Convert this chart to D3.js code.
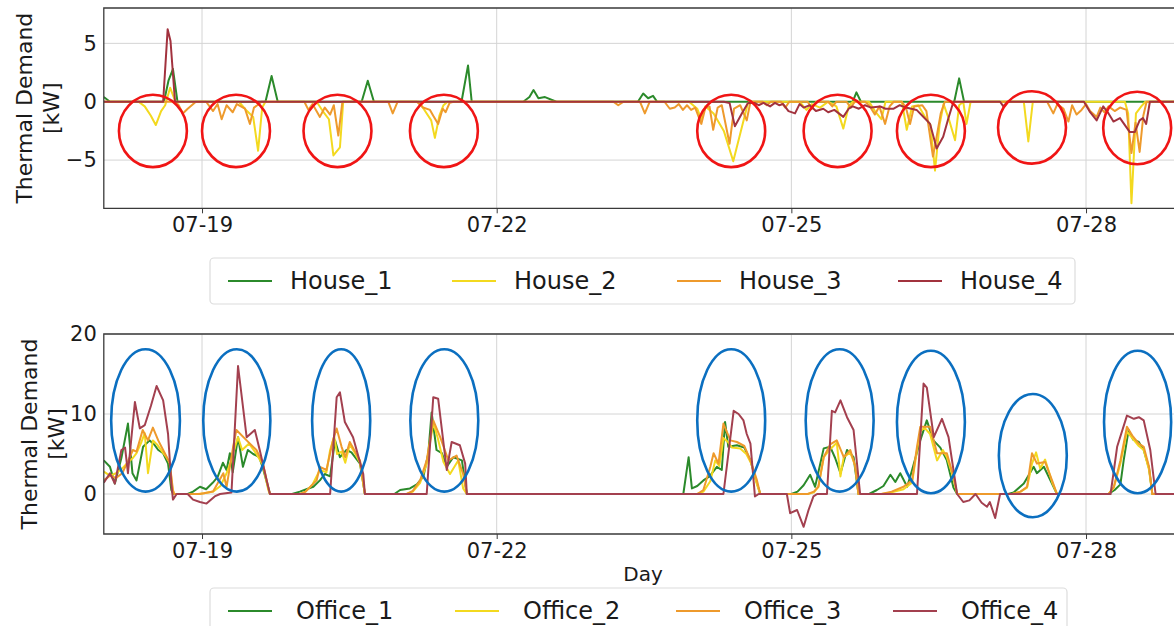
<!DOCTYPE html>
<html>
<head>
<meta charset="utf-8">
<script src="https://cdn.jsdelivr.net/npm/d3@7"></script>
<style>
  body { margin: 0; background: #fff; }
  svg { display: block; font-family: "DejaVu Sans", sans-serif; }
</style>
</head>
<body>
<svg id="chart" width="1174" height="626"></svg>
<script>
// ---- data: [hours since 07-18 00:00, kW] ----
const startDay = "2019-07-18";
const endHour = 266;
const tickDays = ["07-19", "07-22", "07-25", "07-28"];

const houseNames = ["House_1", "House_2", "House_3", "House_4"];
const officeNames = ["Office_1", "Office_2", "Office_3", "Office_4"];
const houseYTicks = [-5, 0, 5];
const officeYTicks = [0, 10, 20];
const houseYDomain = [-9.13, 8.03];
const officeYDomain = [-5, 20];

const house1 = [[0,0.4],[1.5,0],[14.7,0],[15.8,1.8],[16.9,2.8],[18,0],[39.5,0],[41,2.2],[42.5,0],[63,0],[64.5,1.8],[66,0],[87.4,0],[89,3.1],[89.9,0],[102.5,0],[104,0.4],[105,1.0],[106.2,0.3],[107.8,0.4],[110.6,0],[130.5,0],[131.8,0.7],[133,0.3],[134.2,0.5],[135.2,0],[183,0],[183.9,0.8],[185,0],[207.8,0],[209,2.0],[210.2,0],[266,0]];

const house2 = [[0,0],[8.5,0],[10,-0.4],[11.5,-1.2],[12.7,-2.0],[14,-0.8],[15,-0.3],[16.2,1.2],[17.5,0],[33,0],[35,-0.8],[36.5,-1.3],[37.7,-4.2],[38.7,-0.5],[39.5,0],[52,0],[53.5,-0.8],[55,-1.5],[56.1,-4.6],[57.7,-3.9],[58.5,0],[77,0],[78.5,-0.8],[80,-1.6],[80.9,-3.1],[82,-1.2],[83,-0.3],[84,0],[143,0],[145,-0.6],[146,-1.5],[147,-0.4],[149,-1.0],[151.5,-2.5],[153.8,-5.1],[157.4,-0.1],[158,0],[170,0],[171.7,-0.7],[173,-0.2],[175,-0.5],[177,0],[179,-0.4],[180.7,-2.3],[182,-0.4],[183,0],[187,0],[188.4,-0.8],[190,-1.5],[191,0],[195,0],[196.2,-2.4],[197.5,-0.4],[199,-0.3],[200.5,-1.2],[202,-2.0],[203.1,-5.9],[204.2,-2.0],[205.2,-0.2],[206.5,-1.5],[208,-3.3],[209,-0.3],[210,0],[210.8,-1.9],[211.8,0],[224.8,0],[225.9,-3.4],[227,0],[249.5,0],[250.3,-1.0],[251.1,-8.7],[252.2,-1.0],[253.5,-0.4],[254.5,0],[266,0]];

const house3 = [[0,0],[17.5,0],[18.3,-0.3],[19.3,-1.0],[20.5,-0.6],[21.5,-0.3],[22.5,0],[25,0],[26.7,-0.8],[27.8,-0.2],[28.8,-1.5],[30,-0.3],[31.5,-0.9],[32.5,-0.2],[34.5,-0.6],[35.7,-1.9],[36.7,-0.5],[37.5,-0.3],[38.5,0],[49,0],[50,-0.7],[51,-0.2],[52.8,-1.3],[54,-0.5],[55.3,-1.1],[56.2,-0.3],[57.3,-2.9],[58.3,0],[69.5,0],[70.6,-1.0],[71.8,0],[76.5,0],[78,-0.5],[79.7,-0.7],[80.5,-1.2],[81.7,-1.9],[82.8,-0.6],[83.5,-0.9],[84.5,-0.1],[85.5,0],[124.5,0],[125.7,-0.3],[127,0],[131,0],[132.2,-1.0],[133.4,0],[137,0],[138.3,-0.6],[139.5,-0.5],[140.5,-0.2],[141.5,-0.7],[142.5,-0.3],[143.5,-0.7],[144.5,-0.5],[146,-1.9],[147,-0.5],[148,-0.4],[148.9,-2.4],[150,-0.5],[151,-0.3],[152.9,-3.6],[154,-0.6],[155.5,-0.3],[157.1,-1.6],[158,0],[161,0],[162,-0.3],[163,0],[165.5,0],[166.5,-0.5],[167.5,0],[172,0],[173,-0.6],[174,0],[177,0],[178,-0.4],[179,0],[181.5,0],[182.5,-0.5],[183.5,0],[186,0],[187,-0.3],[188.4,-1.1],[189.5,-0.4],[190.9,-1.9],[192,-0.4],[193,0],[195,0],[196,-0.5],[197,-1.9],[198,-0.4],[200,-0.3],[201,-0.8],[202.6,-4.7],[203.5,-3.0],[204.5,-1.0],[205.5,0],[230.5,0],[232,-1.0],[233,-0.2],[234.5,-0.6],[235.7,-1.7],[236.6,-0.3],[237.7,-1.1],[238.9,-0.7],[240,-0.2],[241,-0.8],[242.6,-1.3],[243.5,-0.5],[244.5,-0.9],[245.5,-0.4],[247,-0.8],[248.3,-0.5],[249.9,-0.7],[251.1,-4.4],[252.1,-1.8],[253.1,-4.3],[254,-1.2],[254.8,0],[266,0]];

const house4 = [[0,0],[14.5,0],[15.6,6.2],[16.3,5.2],[17.4,0],[151.5,0],[152.9,-0.1],[154.2,-2.1],[155.9,-1.0],[157.4,-0.1],[159,-0.1],[160,-0.3],[161.2,-0.1],[162.8,-0.4],[164,-0.1],[165,-0.3],[166,-0.2],[167.3,-0.8],[168.9,-1.0],[170,-0.2],[171,-0.5],[172.5,-0.3],[174,-0.8],[175.8,-0.6],[177,-0.9],[178.5,-0.7],[180.7,-1.3],[182,-0.6],[183,-0.4],[184.5,-0.6],[186,-0.3],[187.5,-0.5],[189.7,-0.4],[191,-0.6],[193,-0.6],[194.5,-0.3],[196,-0.5],[198.6,-0.7],[200,-1.2],[201.9,-1.9],[203.5,-4.0],[205.1,-3.0],[206.3,-1.5],[207.6,0],[219,0],[219.8,-0.4],[220.8,0],[239.5,0],[241,-0.9],[242.6,-1.6],[244.2,-0.4],[245.5,-1.0],[246.7,-1.7],[248.3,-1.4],[249.5,-2.0],[250.7,-2.6],[251.9,-2.6],[253.1,-1.6],[253.9,-1.4],[254.7,-1.9],[255.6,0],[266,0]];

const office1 = [[0,4.2],[1.5,3.4],[2.7,1.3],[4.3,4.5],[5.9,8.8],[7,2.6],[8,1.7],[9.6,5.9],[11.2,6.7],[12.3,6.2],[13.3,5.5],[14.5,5.1],[15.7,3.8],[16.5,0.5],[17,0],[20.5,0],[21.8,0.3],[23.5,0.9],[25,0.6],[26.6,1.4],[27.8,2.1],[29.1,3.9],[30,3.0],[30.8,5.1],[31.5,2.7],[32.8,7.1],[34,3.4],[35.2,5.5],[36.5,5.0],[38,4.6],[39,3.0],[40.6,0],[46,0],[47.9,0.3],[49.5,0.6],[51.2,0.9],[52.8,1.7],[54,2.5],[55.3,2.2],[56.5,6.7],[57.7,4.6],[59.3,5.5],[60.5,5.2],[62.6,3.8],[63.8,0],[71,0],[72.4,0.5],[74.8,0.7],[76.5,1.2],[78.1,2.2],[79.3,5.1],[80.1,10.2],[81.3,5.5],[82.6,5.1],[83.8,3.4],[85.4,4.6],[87.5,4.2],[88.7,0],[141.6,0],[142.9,4.6],[143.7,0.7],[145,1.0],[146.5,1.7],[148,2.2],[149.8,3.4],[151,3.0],[151.8,9.0],[152.6,5.9],[154.7,6.1],[156.5,5.8],[158,4.2],[159.2,2.0],[160.4,0],[168,0],[169.5,0.3],[171,1.1],[172.6,2.4],[173.8,0.9],[175.9,5.7],[177.5,5.9],[178.7,4.5],[180,2.6],[181.6,5.5],[183.2,4.6],[184.4,0],[187,0],[188.9,0.5],[190.5,1.0],[192.2,2.4],[193.4,1.5],[194.6,2.6],[196.3,0.9],[197.5,3.0],[199.5,6.7],[201.1,9.2],[202.7,6.7],[204.4,5.8],[206,4.2],[207.6,0.8],[208.5,0],[221,0],[222.3,0.2],[224.8,1.3],[227.2,3.4],[228,2.6],[229.7,3.4],[231.5,1.5],[232.9,0],[245.5,0],[247,0.5],[248.4,1.2],[249.2,4.2],[250.4,8.0],[251.5,6.8],[252.9,6.5],[254.1,5.5],[255.4,3.2],[256.2,0],[266,0]];

const office2 = [[0,2.8],[1.5,2.3],[3,2.6],[4.5,3.2],[6,4.0],[7.1,4.5],[8,5.1],[9.2,6.5],[10,7.6],[10.8,2.6],[12,6.7],[13,6.2],[14.4,5.2],[15.3,4.6],[16.1,3.9],[16.8,0.5],[17.2,0],[23,0],[24.5,0.1],[26.7,0.3],[28.5,1.0],[30,2.6],[31,4.0],[32,5.8],[32.8,7.1],[33.8,5.5],[35.5,6.3],[37.3,5.0],[38.9,3.6],[40.2,0.5],[40.6,0],[48,0],[49.3,0.3],[51,1.2],[52.8,3.0],[54.4,2.7],[55.3,5.5],[56.3,7.2],[57,5.0],[58.1,5.3],[59,3.9],[60.1,6.2],[61.5,5.0],[62.6,3.9],[63.8,0],[74,0],[75.5,0.3],[77.3,1.4],[78.9,3.8],[80.5,8.9],[81.6,7.0],[83,4.0],[84.6,2.5],[86.6,4.2],[87.8,0.7],[88.7,0],[145,0],[146.5,0.3],[148.2,1.6],[149.4,4.2],[150.4,3.5],[151.4,7.0],[152.5,6.5],[153.5,5.8],[155.5,5.7],[157,5.0],[158.2,3.8],[159.6,1.2],[160.4,0],[172,0],[173.5,0.2],[174.6,0.9],[175.9,4.6],[177.5,5.6],[179.1,6.4],[180,2.2],[180.8,4.6],[182.4,5.2],[183.6,3.5],[184.4,0],[190,0],[192.5,0.2],[195.4,0.6],[197.5,1.4],[198.7,5.5],[199.5,7.8],[200.5,8.3],[201.9,7.5],[203.6,4.2],[205,5.5],[206,4.6],[207.6,2.0],[208.5,0],[222,0],[224,0.3],[225.6,0.8],[226.8,3.8],[227.8,5.2],[228.8,3.2],[230,4.3],[231.7,1.5],[232.9,0],[245.5,0],[246.8,0.8],[248.4,3.8],[250,7.8],[251.3,7.0],[252.9,6.0],[254.1,5.5],[255.4,3.0],[256.2,0],[266,0]];

const office3 = [[0,1.7],[1.5,2.3],[3,2.0],[4.5,2.6],[6,4.2],[7.1,5.5],[8,5.3],[9.5,8.0],[10.8,6.7],[12,8.3],[13.3,6.7],[14.5,5.5],[16.1,3.9],[16.9,0.5],[17.2,0],[23.5,0],[26.7,0.3],[29.2,2.6],[30,0.9],[31.6,5.9],[32.4,8.0],[34.9,6.7],[37.3,5.5],[38.9,3.8],[40.2,0.8],[40.6,0],[48,0],[49.3,0.3],[52,1.7],[52.8,3.4],[54.4,3.0],[56,6.7],[56.9,8.2],[58.1,5.9],[59,4.6],[60.1,6.5],[62.6,4.2],[63.8,0],[74,0],[75.5,0.4],[77.3,1.7],[78.9,4.2],[80.5,9.2],[82.2,7.1],[84.2,4.2],[86.2,4.8],[87.8,2.5],[88.7,0],[145,0],[146.5,0.5],[148.2,3.4],[149,5.1],[150.2,3.8],[151.4,8.8],[153.1,6.7],[154.7,6.5],[156.5,6.0],[158,4.2],[159.6,1.7],[160.4,0],[172,0],[173.5,0.3],[174.6,0.9],[175.9,4.6],[177.5,6.2],[179.1,6.7],[180.8,4.6],[182.4,5.5],[183.6,3.5],[184.4,0],[190,0],[192.5,0.3],[195.4,0.9],[197.5,1.7],[198.7,5.9],[199.5,8.4],[201.9,8.4],[203.6,5.1],[206,5.1],[207.6,2.2],[208.5,0],[222,0],[224,0.3],[225.6,0.9],[226.8,5.1],[228,3.8],[230,4.0],[231.7,1.7],[232.9,0],[245.5,0],[246.8,0.9],[248.4,4.2],[250,8.4],[251.3,7.3],[252.9,6.3],[254.1,5.9],[255.4,3.4],[256.2,0],[266,0]];

const office4 = [[0,1.4],[1.5,2.6],[2.7,1.3],[4.3,5.5],[5.2,5.8],[5.9,2.6],[7.6,11.5],[8.8,8.2],[10,8.6],[11.5,11.0],[12.9,13.5],[14.5,11.7],[15.7,7.5],[16.5,1.3],[16.9,-0.7],[17.8,0],[20.5,0],[21.8,-0.7],[23.5,-1.0],[25.1,-1.2],[27.1,-0.3],[28.4,0],[31.2,0.2],[32.8,16.0],[34.9,7.1],[36.9,8.0],[38.1,5.5],[39.8,1.7],[40.6,0],[55.3,0],[56.9,12.1],[57.7,12.7],[58.9,9.0],[60.9,7.1],[63.4,2.5],[63.8,0],[78.9,0],[80.5,12.1],[81.7,11.9],[83.8,3.0],[85,6.5],[87,6.1],[88.3,3.8],[88.7,0],[151.4,0],[153.9,10.4],[155.1,10.0],[156.3,9.2],[157.1,7.5],[158,6.3],[159.1,-0.3],[160,0],[166.9,0],[167.7,-2.4],[169.4,-2.0],[171,-4.1],[172.2,-2.0],[173.4,-0.3],[174.3,0],[176.7,0],[177.9,10.4],[178.7,10.2],[180,11.7],[181.6,9.6],[183.2,8.0],[184.8,0],[198.7,0],[200.3,13.8],[201.1,13.3],[202.8,7.1],[204.8,9.4],[206.4,7.1],[208.5,0],[210,-1.0],[211.5,-0.8],[213,0],[214.5,-1.1],[215.8,-1.6],[216.5,-1.0],[217.8,-3.0],[219,0],[246,0],[247.6,5.9],[250,9.8],[251.7,9.4],[252.9,9.6],[254.1,9.2],[255.7,5.5],[257,0],[266,0]];

// highlighted periods: [centre hour, centre kW, half-width in hours, half-height in kW]
const houseMarks = [[12.0,-2.5,8.3,3.1],[32.3,-2.5,8.3,3.1],[57.1,-2.5,8.3,3.1],[83.1,-2.5,8.3,3.1],[153.3,-2.5,8.3,3.1],[179.3,-2.5,8.3,3.1],[202.1,-2.5,8.3,3.1],[226.8,-2.2,8.3,3.1],[252.5,-2.25,8.3,3.1]];
const officeMarks = [[10.2,9.2,8.4,8.9],[32.5,9.2,8.2,8.9],[58.0,9.2,7.1,8.9],[83.2,9.2,8.3,8.9],[153.3,9.2,8.3,8.9],[179.8,9.2,8.3,8.9],[202.1,9.0,8.3,8.9],[227.0,4.8,8.3,7.7],[252.6,9.0,8.2,8.9]];

const houseColors = ["#2b8a2b", "#f3d91f", "#ee9a2c", "#a2323e"];
const officeColors = ["#2b8a2b", "#f3d91f", "#ee9a2c", "#a3404f"];

// ---- drawing ----
const svg = d3.select("#chart");
const t0 = d3.timeParse("%Y-%m-%d")(startDay);
const at = h => new Date(t0.getTime() + h * 3600e3);
const year = startDay.slice(0, 4);
const tickDates = tickDays.map(s => d3.timeParse("%Y-%m-%d")(year + "-" + s));

const pxPerHour = 4.0926;
const left = 103.8;
const x = d3.scaleTime().domain([at(0), at(endHour)]).range([left, left + endHour * pxPerHour]);

function panel(opts) {
  const { top, bottom, yDomain, yTicks, series, names, colors, marks, markColor, id } = opts;
  const y = d3.scaleLinear().domain(yDomain).range([bottom, top]);
  const g = svg.append("g");
  const right = 1200;

  g.append("clipPath").attr("id", id).append("rect")
    .attr("x", left).attr("y", top).attr("width", right - left).attr("height", bottom - top);

  // grid
  g.append("g").selectAll("line").data(tickDates).join("line")
    .attr("x1", d => x(d)).attr("x2", d => x(d)).attr("y1", top).attr("y2", bottom)
    .attr("stroke", "#d4d4d4").attr("stroke-width", 1);
  g.append("g").selectAll("line").data(yTicks).join("line")
    .attr("x1", left).attr("x2", right).attr("y1", d => y(d)).attr("y2", d => y(d))
    .attr("stroke", "#d4d4d4").attr("stroke-width", 1);

  // series
  const line = d3.line().x(d => x(at(d[0]))).y(d => y(d[1]));
  g.append("g").attr("clip-path", `url(#${id})`).selectAll("path").data(series).join("path")
    .attr("d", line).attr("fill", "none")
    .attr("stroke", (d, i) => colors[i]).attr("stroke-width", 2)
    .attr("stroke-linejoin", "round");

  // frame
  g.append("path")
    .attr("d", `M${right},${top}H${left}V${bottom}H${right}`)
    .attr("fill", "none").attr("stroke", "#3a3a3a").attr("stroke-width", 1.3);

  // axes
  const xa = g.append("g").attr("transform", `translate(0,${bottom})`)
    .call(d3.axisBottom(x).tickValues(tickDates).tickFormat(d3.timeFormat("%m-%d")).tickSize(5).tickPadding(4));
  xa.select(".domain").remove();
  xa.selectAll("line").attr("stroke", "#3a3a3a");
  xa.selectAll("text").attr("font-size", 21).attr("fill", "#1a1a1a").attr("font-family", "DejaVu Sans");

  const ya = g.append("g").attr("transform", `translate(${left},0)`)
    .call(d3.axisLeft(y).tickValues(yTicks).tickFormat(d3.format("d")).tickSize(0).tickPadding(7));
  ya.select(".domain").remove();
  ya.selectAll("text").attr("font-size", 21).attr("fill", "#1a1a1a").attr("font-family", "DejaVu Sans")
    .text(d => d < 0 ? "\u2212" + Math.abs(d) : d);

  // y title
  const cy = (top + bottom) / 2;
  const yt = g.append("text").attr("transform", `translate(0,${cy}) rotate(-90)`)
    .attr("text-anchor", "middle").attr("font-size", 22).attr("fill", "#1a1a1a");
  yt.append("tspan").attr("x", 0).attr("y", opts.titleX1).text("Thermal Demand");
  yt.append("tspan").attr("x", 0).attr("y", opts.titleX2).text("[kW]");

  // highlight ellipses
  g.append("g").selectAll("ellipse").data(marks).join("ellipse")
    .attr("cx", d => x(at(d[0])))
    .attr("cy", d => y(d[1]))
    .attr("rx", d => x(at(d[0] + d[2])) - x(at(d[0])))
    .attr("ry", d => y(d[1] - d[3]) - y(d[1]))
    .attr("fill", "none").attr("stroke", markColor).attr("stroke-width", 2.6);

  return y;
}

function legend(lx, ly, w, h, names, colors, itemX, textGap) {
  const g = svg.append("g");
  g.append("rect").attr("x", lx).attr("y", ly).attr("width", w).attr("height", h)
    .attr("rx", 4).attr("fill", "#fff").attr("stroke", "#dcdcdc").attr("stroke-width", 1.2);
  const cy = ly + h / 2;
  const it = g.selectAll("g").data(names).join("g");
  it.append("line")
    .attr("x1", (d, i) => itemX[i]).attr("x2", (d, i) => itemX[i] + 44)
    .attr("y1", cy).attr("y2", cy)
    .attr("stroke", (d, i) => colors[i]).attr("stroke-width", 2);
  it.append("text")
    .attr("x", (d, i) => itemX[i] + 44 + textGap).attr("y", cy).attr("dy", "0.35em")
    .attr("font-size", 24).attr("fill", "#1a1a1a").text(d => d);
}

panel({
  id: "clipHouse", top: 8, bottom: 208.3, yDomain: houseYDomain, yTicks: houseYTicks,
  series: [house1, house2, house3, house4], names: houseNames, colors: houseColors,
  marks: houseMarks, markColor: "#f01515", titleX1: 32, titleX2: 59
});
legend(210, 258, 865, 46, houseNames, houseColors, [228, 452, 677, 898], 18);

panel({
  id: "clipOffice", top: 334, bottom: 534, yDomain: officeYDomain, yTicks: officeYTicks,
  series: [office1, office2, office3, office4], names: officeNames, colors: officeColors,
  marks: officeMarks, markColor: "#0b6fc0", titleX1: 37, titleX2: 64
});

svg.append("text").attr("x", 643).attr("y", 574).attr("dy", "0.35em")
  .attr("text-anchor", "middle").attr("font-size", 20).attr("fill", "#1a1a1a").text("Day");

legend(210, 588, 857, 46, officeNames, officeColors, [228, 455, 676, 893], 24);
</script>
</body>
</html>
